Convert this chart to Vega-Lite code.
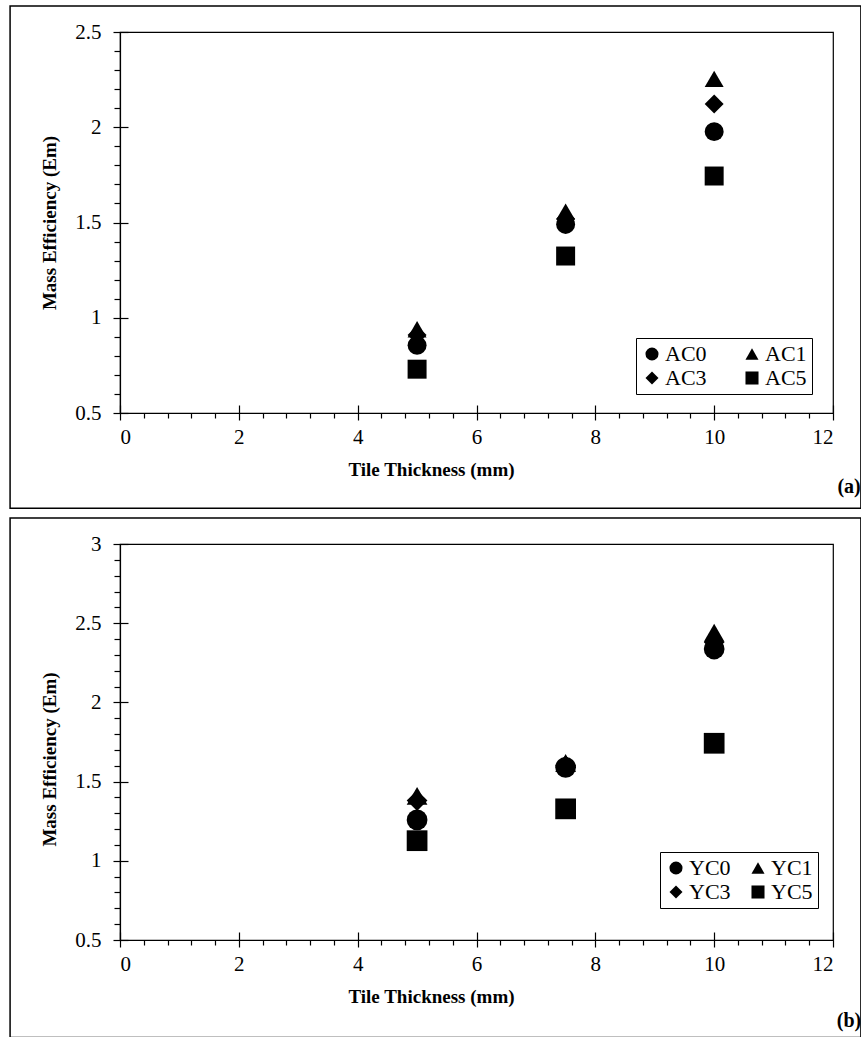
{
  "$schema": "https://vega.github.io/schema/vega-lite/v6.json",
  "padding": {"left": 8, "top": 4, "right": 0, "bottom": 0},
  "background": "white",
  "spacing": 6,
  "config": {
    "font": "Liberation Serif",
    "view": {"stroke": "black", "strokeWidth": 1.2},
    "style": {
      "guide-label": {"font": "Liberation Serif", "fill": "black"},
      "guide-title": {"font": "Liberation Serif", "fill": "black"}
    },
    "axis": {
      "domainColor": "black", "tickColor": "black", "labelColor": "black", "titleColor": "black",
      "grid": false, "labelFont": "Liberation Serif", "titleFont": "Liberation Serif",
      "domainWidth": 1.2, "tickWidth": 1.2
    },
    "legend": {
      "labelFont": "Liberation Serif", "labelFontSize": 22, "labelColor": "black",
      "symbolSize": 170, "symbolFillColor": "black", "symbolStrokeColor": "black", "symbolStrokeWidth": 0,
      "strokeColor": "black", "padding": 5, "columnPadding": 24, "rowPadding": 2, "labelOffset": 2,
      "fillColor": "white", "direction": "horizontal"
    }
  },
  "datasets": {
    "a": [
      {"thickness": 5, "em": 0.855, "series": "AC0"},
      {"thickness": 7.5, "em": 1.49, "series": "AC0"},
      {"thickness": 10, "em": 1.977, "series": "AC0"},
      {"thickness": 5, "em": 0.94, "series": "AC1"},
      {"thickness": 7.5, "em": 1.557, "series": "AC1"},
      {"thickness": 10, "em": 2.254, "series": "AC1"},
      {"thickness": 5, "em": 0.91, "series": "AC3"},
      {"thickness": 7.5, "em": 1.52, "series": "AC3"},
      {"thickness": 10, "em": 2.122, "series": "AC3"},
      {"thickness": 5, "em": 0.73, "series": "AC5"},
      {"thickness": 7.5, "em": 1.324, "series": "AC5"},
      {"thickness": 10, "em": 1.744, "series": "AC5"}
    ],
    "b": [
      {"thickness": 5, "em": 1.258, "series": "YC0"},
      {"thickness": 7.5, "em": 1.59, "series": "YC0"},
      {"thickness": 10, "em": 2.337, "series": "YC0"},
      {"thickness": 5, "em": 1.41, "series": "YC1"},
      {"thickness": 7.5, "em": 1.617, "series": "YC1"},
      {"thickness": 10, "em": 2.44, "series": "YC1"},
      {"thickness": 5, "em": 1.38, "series": "YC3"},
      {"thickness": 7.5, "em": 1.6, "series": "YC3"},
      {"thickness": 10, "em": 2.38, "series": "YC3"},
      {"thickness": 5, "em": 1.127, "series": "YC5"},
      {"thickness": 7.5, "em": 1.328, "series": "YC5"},
      {"thickness": 10, "em": 1.742, "series": "YC5"}
    ]
  },
  "resolve": {"scale": {"shape": "independent"}, "legend": {"shape": "independent"}},
  "vconcat": [
    {
      "width": 713,
      "height": 381,
      "resolve": {"axis": {"x": "independent", "y": "independent"}},
      "layer": [
        {
          "data": {"values": [{}]},
          "mark": {"type": "rect", "filled": false, "stroke": "black", "strokeWidth": 1.5, "clip": false},
          "encoding": {
            "x": {"datum": -1.85, "type": "quantitative", "scale": {"domain": [0, 12], "nice": false, "zero": false}, "axis": null},
            "x2": {"datum": 12.47},
            "y": {"datum": 2.636, "type": "quantitative", "scale": {"domain": [0.5, 2.5], "nice": false, "zero": false}, "axis": null},
            "y2": {"datum": 0}
          }
        },
        {
          "data": {"name": "a"},
          "mark": {"type": "point", "filled": true, "opacity": 1, "color": "black", "size": 360},
          "encoding": {
            "x": {
              "field": "thickness", "type": "quantitative",
              "scale": {"domain": [0, 12], "nice": false, "zero": false},
              "axis": {"orient": "bottom", "values": [0, 2, 4, 6, 8, 10, 12], "format": "d", "tickSize": 7, "labelPadding": 6, "labelFontSize": 21, "labelFont": "Liberation Serif",
                "title": "Tile Thickness (mm)", "titleFont": "Liberation Serif", "titleFontSize": 19, "titleFontWeight": "bold", "titlePadding": 13, "titleX": 311}
            },
            "y": {
              "field": "em", "type": "quantitative",
              "scale": {"domain": [0.5, 2.5], "nice": false, "zero": false},
              "axis": {"orient": "left", "values": [0.5, 1, 1.5, 2, 2.5], "format": "~g", "tickSize": 7, "labelPadding": 12, "labelFontSize": 21, "labelFont": "Liberation Serif",
                "title": "Mass Efficiency (Em)", "titleFont": "Liberation Serif", "titleFontSize": 19, "titleFontWeight": "bold", "titlePadding": 15}
            },
            "shape": {
              "field": "series", "type": "nominal",
              "scale": {"domain": ["AC0", "AC1", "AC3", "AC5"], "range": ["circle", "triangle-up", "diamond", "square"]},
              "legend": {"orient": "none", "legendX": 516, "legendY": 306, "columns": 2, "title": null, "direction": "horizontal", "columnPadding": 34}
            }
          }
        },
        {
          "data": {"name": "a"},
          "mark": {"type": "point", "opacity": 0, "size": 1},
          "encoding": {
            "x": {"field": "thickness", "type": "quantitative", "scale": {"domain": [0, 12], "nice": false, "zero": false},
              "axis": {"orient": "bottom", "values": [0, 2, 4, 6, 8, 10, 12], "tickSize": -8, "labels": false, "domain": false, "title": null}},
            "y": {"field": "em", "type": "quantitative", "scale": {"domain": [0.5, 2.5], "nice": false, "zero": false},
              "axis": {"orient": "left", "values": [0.5, 1, 1.5, 2, 2.5], "tickSize": -8, "labels": false, "domain": false, "title": null}}
          }
        },
        {
          "data": {"name": "a"},
          "mark": {"type": "point", "opacity": 0, "size": 1},
          "encoding": {
            "x": {"field": "thickness", "type": "quantitative", "scale": {"domain": [0, 12], "nice": false, "zero": false},
              "axis": {"orient": "bottom", "values": [0.4, 0.8, 1.2, 1.6, 2.4, 2.8, 3.2, 3.6, 4.4, 4.8, 5.2, 5.6, 6.4, 6.8, 7.2, 7.6, 8.4, 8.8, 9.2, 9.6, 10.4, 10.8, 11.2, 11.6], "tickSize": 5, "labels": false, "domain": false, "title": null}},
            "y": {"field": "em", "type": "quantitative", "scale": {"domain": [0.5, 2.5], "nice": false, "zero": false},
              "axis": {"orient": "left", "values": [0.6, 0.7, 0.8, 0.9, 1.1, 1.2, 1.3, 1.4, 1.6, 1.7, 1.8, 1.9, 2.1, 2.2, 2.3, 2.4], "tickSize": 6, "labels": false, "domain": false, "title": null}}
          }
        },
        {
          "data": {"values": [{}]},
          "mark": {"type": "text", "text": "(a)", "font": "Liberation Serif", "fontSize": 20, "fontWeight": "bold", "align": "center", "baseline": "middle", "color": "black"},
          "encoding": {
            "x": {"datum": 12.27, "type": "quantitative", "scale": {"domain": [0, 12], "nice": false, "zero": false}, "axis": null},
            "y": {"datum": 0.112, "type": "quantitative", "scale": {"domain": [0.5, 2.5], "nice": false, "zero": false}, "axis": null}
          }
        }
      ]
    },
    {
      "width": 713,
      "height": 396,
      "resolve": {"axis": {"x": "independent", "y": "independent"}},
      "layer": [
        {
          "data": {"values": [{}]},
          "mark": {"type": "rect", "filled": false, "stroke": "black", "strokeWidth": 1.5, "clip": false},
          "encoding": {
            "x": {"datum": -1.85, "type": "quantitative", "scale": {"domain": [0, 12], "nice": false, "zero": false}, "axis": null},
            "x2": {"datum": 12.47},
            "y": {"datum": 3.164, "type": "quantitative", "scale": {"domain": [0.5, 3], "nice": false, "zero": false}, "axis": null},
            "y2": {"datum": -0.115}
          }
        },
        {
          "data": {"name": "b"},
          "mark": {"type": "point", "filled": true, "opacity": 1, "color": "black", "size": 430},
          "encoding": {
            "x": {
              "field": "thickness", "type": "quantitative",
              "scale": {"domain": [0, 12], "nice": false, "zero": false},
              "axis": {"orient": "bottom", "values": [0, 2, 4, 6, 8, 10, 12], "format": "d", "tickSize": 7, "labelPadding": 6, "labelFontSize": 21, "labelFont": "Liberation Serif",
                "title": "Tile Thickness (mm)", "titleFont": "Liberation Serif", "titleFontSize": 19, "titleFontWeight": "bold", "titlePadding": 13, "titleX": 311}
            },
            "y": {
              "field": "em", "type": "quantitative",
              "scale": {"domain": [0.5, 3], "nice": false, "zero": false},
              "axis": {"orient": "left", "values": [0.5, 1, 1.5, 2, 2.5, 3], "format": "~g", "tickSize": 7, "labelPadding": 12, "labelFontSize": 21, "labelFont": "Liberation Serif",
                "title": "Mass Efficiency (Em)", "titleFont": "Liberation Serif", "titleFontSize": 19, "titleFontWeight": "bold", "titlePadding": 15, "titleY": 215}
            },
            "shape": {
              "field": "series", "type": "nominal",
              "scale": {"domain": ["YC0", "YC1", "YC3", "YC5"], "range": ["circle", "triangle-up", "diamond", "square"]},
              "legend": {"orient": "none", "legendX": 540, "legendY": 308, "columns": 2, "title": null, "columnPadding": 16, "direction": "horizontal"}
            }
          }
        },
        {
          "data": {"name": "b"},
          "mark": {"type": "point", "opacity": 0, "size": 1},
          "encoding": {
            "x": {"field": "thickness", "type": "quantitative", "scale": {"domain": [0, 12], "nice": false, "zero": false},
              "axis": {"orient": "bottom", "values": [0, 2, 4, 6, 8, 10, 12], "tickSize": -8, "labels": false, "domain": false, "title": null}},
            "y": {"field": "em", "type": "quantitative", "scale": {"domain": [0.5, 3], "nice": false, "zero": false},
              "axis": {"orient": "left", "values": [0.5, 1, 1.5, 2, 2.5, 3], "tickSize": -8, "labels": false, "domain": false, "title": null}}
          }
        },
        {
          "data": {"name": "b"},
          "mark": {"type": "point", "opacity": 0, "size": 1},
          "encoding": {
            "x": {"field": "thickness", "type": "quantitative", "scale": {"domain": [0, 12], "nice": false, "zero": false},
              "axis": {"orient": "bottom", "values": [0.4, 0.8, 1.2, 1.6, 2.4, 2.8, 3.2, 3.6, 4.4, 4.8, 5.2, 5.6, 6.4, 6.8, 7.2, 7.6, 8.4, 8.8, 9.2, 9.6, 10.4, 10.8, 11.2, 11.6], "tickSize": 5, "labels": false, "domain": false, "title": null}},
            "y": {"field": "em", "type": "quantitative", "scale": {"domain": [0.5, 3], "nice": false, "zero": false},
              "axis": {"orient": "left", "values": [0.6, 0.7, 0.8, 0.9, 1.1, 1.2, 1.3, 1.4, 1.6, 1.7, 1.8, 1.9, 2.1, 2.2, 2.3, 2.4, 2.6, 2.7, 2.8, 2.9], "tickSize": 6, "labels": false, "domain": false, "title": null}}
          }
        },
        {
          "data": {"values": [{}]},
          "mark": {"type": "text", "text": "(b)", "font": "Liberation Serif", "fontSize": 20, "fontWeight": "bold", "align": "center", "baseline": "middle", "color": "black"},
          "encoding": {
            "x": {"datum": 12.27, "type": "quantitative", "scale": {"domain": [0, 12], "nice": false, "zero": false}, "axis": null},
            "y": {"datum": -0.011, "type": "quantitative", "scale": {"domain": [0.5, 3], "nice": false, "zero": false}, "axis": null}
          }
        }
      ]
    }
  ]
}
